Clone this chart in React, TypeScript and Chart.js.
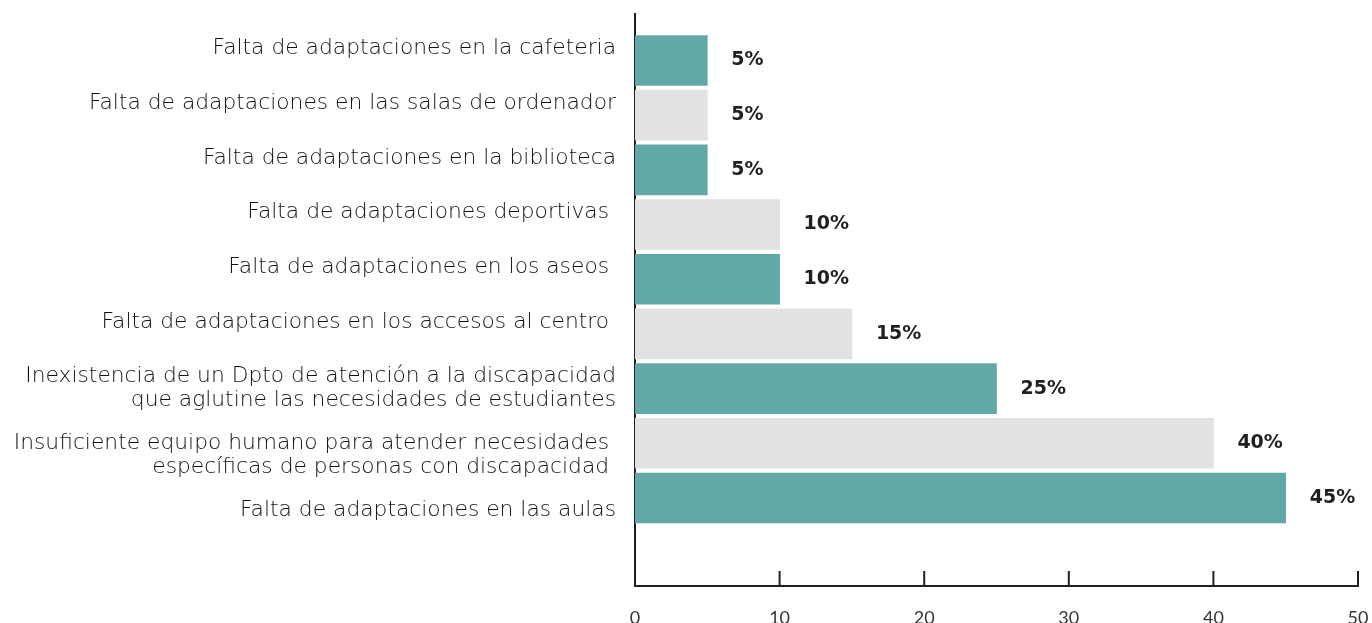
import React, { useEffect, useRef } from "react";
import { Chart, registerables } from "chart.js";

Chart.register(...registerables);

const categories: string[] = [
  "Falta de adaptaciones en la cafeteria",
  "Falta de adaptaciones en las salas de ordenador",
  "Falta de adaptaciones en la biblioteca",
  "Falta de adaptaciones deportivas ",
  "Falta de adaptaciones en los aseos ",
  "Falta de adaptaciones en los accesos al centro ",
  "Inexistencia de un Dpto de atención a la discapacidad\nque aglutine las necesidades de estudiantes",
  "Insuficiente equipo humano para atender necesidades \nespecíficas de personas con discapacidad ",
  "Falta de adaptaciones en las aulas",
];

const percentages: number[] = [5, 5, 5, 10, 10, 15, 25, 40, 45];

const barColors: string[] = [
  "#62A8A6", "#E1E2E4", "#62A8A6", "#E1E2E4", "#62A8A6",
  "#E1E2E4", "#62A8A6", "#E1E2E4", "#62A8A6",
];

const xTickValues: number[] = [0, 10, 20, 30, 40, 50];

// Layout only: half-line nudge of each category label (-1 up, 0 centred, 1 down)
const labelNudge: number[] = [-1, -1, -1, -1, -1, -1, 0, 1, 1];

const TEXT = "#231F20";

export default function App() {
  const ref = useRef<HTMLCanvasElement | null>(null);

  useEffect(() => {
    if (!ref.current) return;

    const valueLabels = {
      id: "valueLabels",
      afterDatasetsDraw(chart: any) {
        const ctx = chart.ctx;
        const meta = chart.getDatasetMeta(0);
        ctx.save();
        ctx.fillStyle = TEXT;
        ctx.font = "bold 19px 'DejaVu Sans'";
        ctx.textAlign = "left";
        ctx.textBaseline = "middle";
        meta.data.forEach((bar: any, i: number) => {
          ctx.fillText(`${percentages[i]}%`, bar.x + 24, bar.y);
        });
        ctx.restore();
      },
    };

    const innerTicks = {
      id: "innerTicks",
      afterDraw(chart: any) {
        const ctx = chart.ctx;
        const xs = chart.scales.x;
        const bottom = chart.chartArea.bottom;
        ctx.save();
        ctx.strokeStyle = TEXT;
        ctx.lineWidth = 2;
        xs.ticks.forEach((t: any) => {
          const px = xs.getPixelForValue(t.value);
          ctx.beginPath();
          ctx.moveTo(px, bottom);
          ctx.lineTo(px, bottom - 15);
          ctx.stroke();
        });
        ctx.restore();
      },
    };

    const noPad = (scale: any) => {
      scale.paddingTop = 0;
      scale.paddingBottom = 0;
      scale.paddingLeft = 0;
      scale.paddingRight = 0;
    };

    const chart = new Chart(ref.current, {
      type: "bar",
      data: {
        datasets: [
          {
            data: percentages.map((v, i) => ({ x: v, y: i })),
            backgroundColor: barColors,
            borderWidth: 0,
            barThickness: 50,
          },
        ],
      },
      options: {
        indexAxis: "y",
        animation: false,
        responsive: false,
        layout: { padding: { top: 14, right: 14, left: 0, bottom: 0 } },
        plugins: {
          legend: { display: false },
          tooltip: { enabled: false },
        },
        scales: {
          x: {
            type: "linear",
            position: "bottom",
            min: 0,
            max: 50,
            afterBuildTicks: (scale: any) => {
              scale.ticks = xTickValues.map((v) => ({ value: v }));
            },
            afterFit: (scale: any) => {
              scale.height = 37;
              noPad(scale);
            },
            grid: { display: false, drawTicks: false },
            border: { display: true, color: TEXT, width: 2 },
            ticks: {
              color: "#3a3536",
              padding: 21,
              font: { family: "Lato", size: 18, weight: "400" },
            },
          },
          y: {
            type: "linear",
            reverse: true,
            offset: false,
            bounds: "data",
            min: -0.85,
            max: 9.61,
            afterBuildTicks: (scale: any) => {
              scale.ticks = categories.map((_, i) => ({ value: i }));
            },
            afterFit: (scale: any) => {
              scale.width = 635;
              noPad(scale);
            },
            grid: { display: false, drawTicks: false, offset: false },
            border: { display: true, color: TEXT, width: 2 },
            ticks: {
              autoSkip: false,
              color: "#111111",
              padding: 19,
              font: { family: "DejaVu Sans", size: 21.8, weight: "200", lineHeight: 1.1 },
              callback: (value: any) => {
                const i = value as number;
                const label = categories[i];
                if (label === undefined) return "";
                const lines = label.split("\n");
                const n = labelNudge[i] || 0;
                if (n < 0) return [...lines, ""];
                if (n > 0) return ["", ...lines];
                return lines;
              },
            },
          },
        },
      },
      plugins: [valueLabels, innerTicks],
    } as any);

    return () => chart.destroy();
  }, []);

  return (
    <div style={{ position: "absolute", left: 0, top: 0, width: 1372, height: 623 }}>
      <canvas ref={ref} width={1372} height={623} style={{ display: "block" }} />
    </div>
  );
}
